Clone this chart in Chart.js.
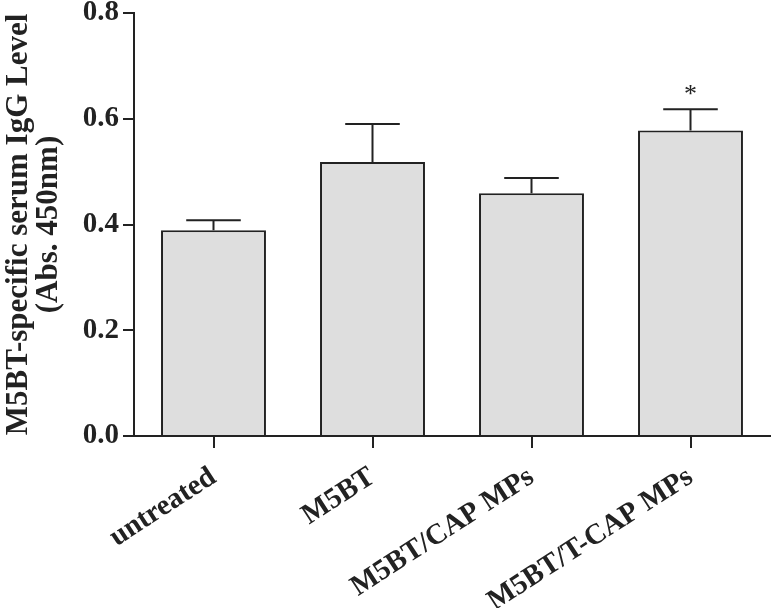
<!DOCTYPE html>
<html>
<head>
<meta charset="utf-8">
<script src="https://cdn.jsdelivr.net/npm/chart.js@4"></script>
<style>
  html, body { margin: 0; padding: 0; background: #fff; }
  #wrap { width: 774px; height: 608px; }
</style>
</head>
<body>
<div id="wrap"><canvas id="barChart" width="774" height="608"></canvas></div>
<script>
// chart data
var groups = ['untreated', 'M5BT', 'M5BT/CAP MPs', 'M5BT/T-CAP MPs'];
var means = [0.389, 0.518, 0.459, 0.578];
var sem = [0.019, 0.072, 0.029, 0.040];
var marks = ['', '', '', '*'];
var yTicks = [0.0, 0.2, 0.4, 0.6, 0.8];

var ink = '#222222';
var serif = '"Liberation Serif", "Times New Roman", serif';

// upper error bars + significance star
var errorBars = {
  id: 'errorBars',
  afterDatasetsDraw: function (chart) {
    var ctx = chart.ctx;
    var y = chart.scales.y;
    var meta = chart.getDatasetMeta(0);
    ctx.save();
    ctx.strokeStyle = ink;
    ctx.lineWidth = 2;
    meta.data.forEach(function (bar, i) {
      var top = y.getPixelForValue(means[i] + sem[i]);
      var base = y.getPixelForValue(means[i]);
      var half = bar.width * 0.26;
      ctx.beginPath();
      ctx.moveTo(bar.x, base);
      ctx.lineTo(bar.x, top);
      ctx.moveTo(bar.x - half, top);
      ctx.lineTo(bar.x + half, top);
      ctx.stroke();
      if (marks[i]) {
        ctx.fillStyle = ink;
        ctx.font = '26px ' + serif;
        ctx.textAlign = 'center';
        ctx.textBaseline = 'bottom';
        ctx.fillText(marks[i], bar.x, top - 1);
      }
    });
    ctx.restore();
  }
};

var ctx = document.getElementById('barChart').getContext('2d');
new Chart(ctx, {
  type: 'bar',
  data: {
    labels: groups,
    datasets: [{
      data: means,
      backgroundColor: '#dedede',
      borderColor: ink,
      borderWidth: 2,
      borderSkipped: 'bottom',
      categoryPercentage: 1.0,
      barPercentage: 0.66
    }]
  },
  options: {
    responsive: false,
    animation: false,
    events: [],
    layout: { padding: { top: 13, right: 4, left: 0, bottom: 0 } },
    plugins: {
      legend: { display: false },
      tooltip: { enabled: false }
    },
    scales: {
      x: {
        grid: {
          offset: false,
          drawOnChartArea: false,
          drawTicks: true,
          tickLength: 12,
          lineWidth: 2,
          color: ink
        },
        border: { display: true, color: ink, width: 2 },
        ticks: {
          color: ink,
          minRotation: 33,
          maxRotation: 33,
          padding: 12,
          font: { family: serif, size: 29, weight: 'bold' }
        },
        afterFit: function (scale) {
          scale.height = 172;
          scale.paddingLeft = 0;
          scale.paddingRight = 0;
        }
      },
      y: {
        min: 0,
        max: 0.8,
        afterBuildTicks: function (scale) {
          scale.ticks = yTicks.map(function (v) { return { value: v }; });
        },
        grid: {
          drawOnChartArea: false,
          drawTicks: true,
          tickLength: 11,
          lineWidth: 2,
          color: ink
        },
        border: { display: true, color: ink, width: 2 },
        ticks: {
          color: ink,
          padding: 4,
          font: { family: serif, size: 29, weight: 'bold' },
          callback: function (v) { return Number(v).toFixed(1); }
        },
        title: {
          display: true,
          text: ['M5BT-specific serum IgG Level', '(Abs. 450nm)'],
          color: ink,
          padding: { top: 4, bottom: 0 },
          font: { family: serif, size: 31, weight: 'bold', lineHeight: 0.97 }
        },
        afterFit: function (scale) {
          scale.width = 134;
          scale.paddingTop = 0;
          scale.paddingBottom = 0;
        }
      }
    }
  },
  plugins: [errorBars]
});
</script>
</body>
</html>
